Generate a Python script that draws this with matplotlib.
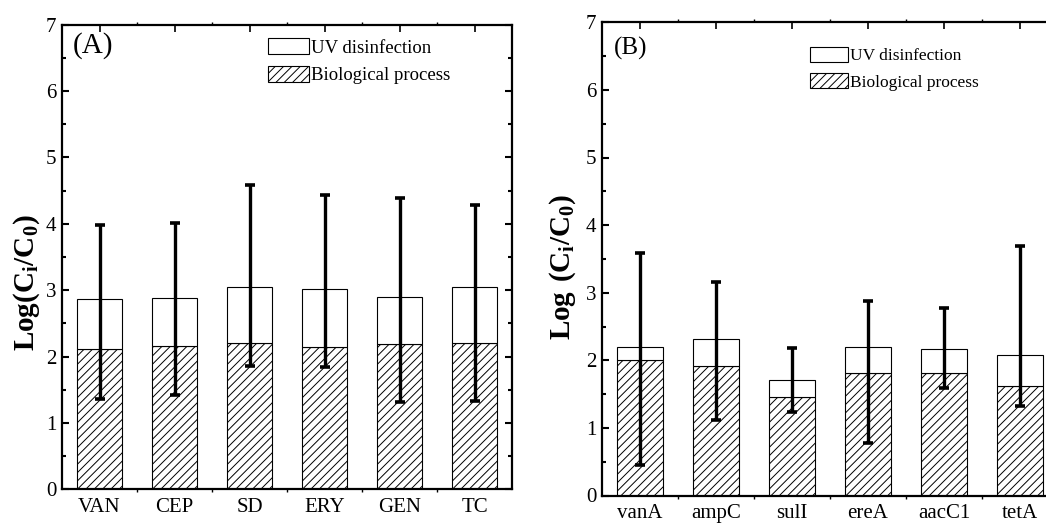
import matplotlib
matplotlib.use("Agg")
import matplotlib.pyplot as plt
import numpy as np
from matplotlib.patches import Patch
from matplotlib.ticker import MultipleLocator, FixedLocator

plt.rcParams['font.family'] = ['Liberation Serif', 'DejaVu Serif']
plt.rcParams['mathtext.fontset'] = 'custom'
plt.rcParams['mathtext.rm'] = 'Liberation Serif'
plt.rcParams['mathtext.bf'] = 'Liberation Serif:bold'
plt.rcParams['hatch.linewidth'] = 0.7

# Panel A data
cats_a = ['VAN', 'CEP', 'SD', 'ERY', 'GEN', 'TC']
bio_a = [2.12, 2.16, 2.21, 2.15, 2.19, 2.20]
total_a = [2.86, 2.88, 3.04, 3.01, 2.89, 3.05]
err_hi_a = [3.98, 4.01, 4.58, 4.43, 4.39, 4.28]
err_lo_a = [1.36, 1.42, 1.86, 1.84, 1.31, 1.33]

# Panel B data
cats_b = ['vanA', 'ampC', 'sulI', 'ereA', 'aacC1', 'tetA']
bio_b = [2.00, 1.91, 1.46, 1.81, 1.81, 1.62]
total_b = [2.20, 2.32, 1.71, 2.20, 2.17, 2.08]
err_hi_b = [3.59, 3.16, 2.18, 2.88, 2.78, 3.69]
err_lo_b = [0.45, 1.11, 1.24, 0.77, 1.59, 1.32]

fig = plt.figure(figsize=(10.46, 5.24), dpi=100)
W, H = 1046.0, 524.0

axA = fig.add_axes([62 / W, (H - 489.3) / H, 450 / W, (489.3 - 24.5) / H])
axB = fig.add_axes([602 / W, (H - 495.5) / H, 456 / W, (495.5 - 22.3) / H])


def draw(ax, cats, bio, total, hi, lo, leg_xy, leg_fs, hh, ylabel, ylab_xy, tag, tag_xy, tag_fs):
    x = np.arange(1, len(cats) + 1)
    bio = np.array(bio)
    total = np.array(total)
    uv = total - bio
    ax.bar(x, bio, width=0.6, color='white', edgecolor='black', linewidth=0.8,
           hatch='////', zorder=2)
    ax.bar(x, uv, bottom=bio, width=0.6, color='white', edgecolor='black',
           linewidth=0.8, zorder=2)
    yerr = [total - np.array(lo), np.array(hi) - total]
    ax.errorbar(x, total, yerr=yerr, fmt='none', ecolor='black', elinewidth=2.4,
                capsize=3.5, capthick=2.6, zorder=3)
    ax.set_xlim(0.5, 6.5)
    ax.set_ylim(0, 7)
    ax.set_xticks(x)
    ax.set_xticklabels(cats, fontsize=15)
    ax.xaxis.set_minor_locator(FixedLocator(np.arange(1.5, 6.0, 1.0)))
    ax.yaxis.set_major_locator(MultipleLocator(1))
    ax.yaxis.set_minor_locator(MultipleLocator(0.5))
    ax.tick_params(axis='y', which='major', direction='in', length=5, width=1.5,
                   labelsize=15, pad=4, right=True)
    ax.tick_params(axis='y', which='minor', direction='in', length=3, width=1.5, right=True)
    ax.tick_params(axis='x', which='major', direction='in', length=5, width=1.2,
                   pad=6, top=True)
    ax.tick_params(axis='x', which='minor', direction='out', length=2, width=1.0, top=True)
    for s in ax.spines.values():
        s.set_linewidth(1.6)
    handles = [Patch(facecolor='white', edgecolor='black', linewidth=0.8),
               Patch(facecolor='white', edgecolor='black', linewidth=0.8, hatch='////')]
    ax.legend(handles, ['UV disinfection', 'Biological process'], loc='upper left',
              bbox_to_anchor=leg_xy, bbox_transform=fig.transFigure, frameon=False,
              fontsize=leg_fs, handlelength=2.2, handleheight=hh, handletextpad=0.12,
              labelspacing=0.5, borderpad=0, borderaxespad=0)
    fig.text(ylab_xy[0], ylab_xy[1], ylabel, rotation=90, ha='center', va='center',
             fontsize=21)
    fig.text(tag_xy[0], tag_xy[1], tag, ha='left', va='center', fontsize=tag_fs)


draw(axA, cats_a, bio_a, total_a, err_hi_a, err_lo_a,
     (267.7 / W, (H - 38) / H), 13.5, 0.95,
     r'$\mathbf{Log(C_i/C_0)}$', (27 / W, (H - 283) / H),
     '(A)', (73 / W, (H - 46) / H), 21)
draw(axB, cats_b, bio_b, total_b, err_hi_b, err_lo_b,
     (810 / W, (H - 46.5) / H), 12.5, 1.0,
     r'$\mathbf{Log\ (C_i/C_0)}$', (563 / W, (H - 267) / H),
     '(B)', (614 / W, (H - 48) / H), 18)

fig.savefig('out.png', dpi=100)
